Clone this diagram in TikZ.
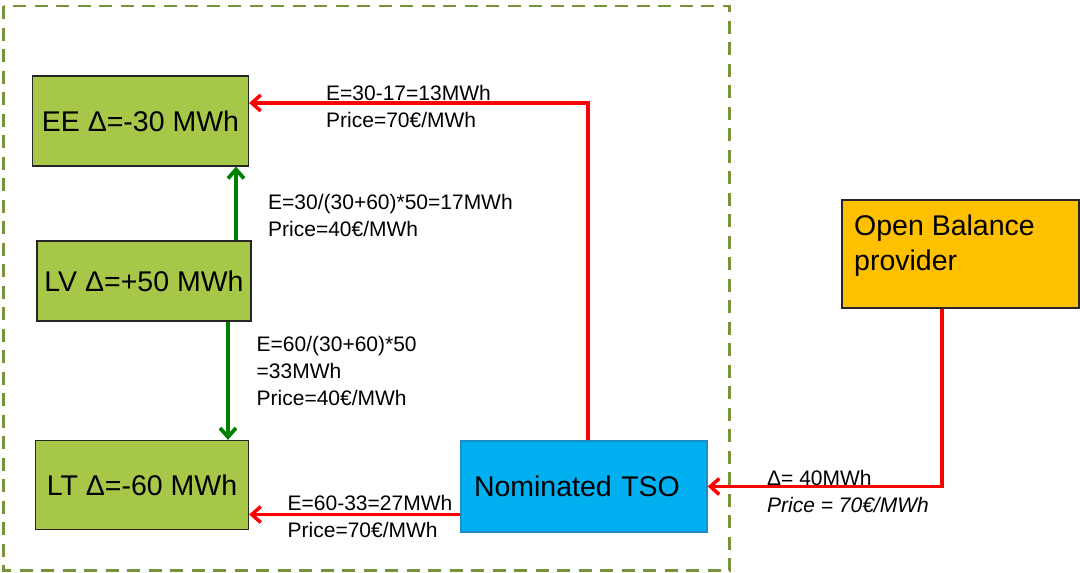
\documentclass[tikz,border=0pt]{standalone}
\usepackage{fontspec}
\setmainfont{Liberation Sans}
\usetikzlibrary{arrows.meta}
\definecolor{boxgreen}{RGB}{167,199,72}
\definecolor{tsoblue}{RGB}{0,176,240}
\definecolor{tsoedge}{RGB}{30,140,200}
\definecolor{obporange}{RGB}{255,192,0}
\definecolor{framegreen}{RGB}{119,147,60}
\definecolor{arrowgreen}{RGB}{0,128,0}
\definecolor{arrowred}{RGB}{255,0,0}
\begin{document}
\begin{tikzpicture}[x=1pt,y=-1pt,
  boxbase/.style={draw=black!85, line width=1.3pt, inner sep=0pt, font=\fontsize{28.5}{34}\selectfont},
  gbox/.style={boxbase, fill=boxgreen},
  frame/.style={draw=framegreen, line width=2.6pt, dash pattern=on 13pt off 8.5pt},
  redarrow/.style={draw=arrowred, line width=3.5pt, -{Straight Barb[length=9pt,width=16pt,line width=3.5pt]}},
  greenarrow/.style={draw=arrowgreen, line width=3.8pt, -{Straight Barb[length=9pt,width=16pt,line width=3.8pt]}},
  lbl/.style={anchor=north west, inner sep=0pt, align=left, font=\fontsize{21}{27}\selectfont},
]
\useasboundingbox (0,0) rectangle (1080,573);
\draw[frame] (3.5,6) rectangle (729.5,570.5);

\node[gbox, minimum width=216pt, minimum height=90pt] (EE) at (140.5,121) {EE Δ=-30 MWh};
\node[gbox, minimum width=214pt, minimum height=80pt] (LV) at (144,281) {LV Δ=+50 MWh};
\node[gbox, minimum width=213pt, minimum height=89pt] (LT) at (142,485) {LT Δ=-60 MWh};
\node[boxbase, draw=tsoedge, fill=tsoblue, minimum width=246pt, minimum height=91pt,
      text width=220pt, align=left] (TSO) at (584,486.5) {Nominated TSO};
\node[boxbase, fill=obporange, minimum width=237pt, minimum height=108pt] (OBP) at (960.5,254) {};
\node[anchor=north west, inner sep=0pt, align=left, font=\fontsize{28.5}{35}\selectfont] (OBPtext) at (854,215) {Open Balance\\provider};

\draw[redarrow] ([xshift=4pt]TSO.north) |- ([yshift=18pt]EE.east);
\draw[greenarrow] ([xshift=92pt]LV.north) -- ([xshift=92pt]LV.north |- EE.south);
\draw[greenarrow] ([xshift=84pt]LV.south) -- ([xshift=84pt]LV.south |- LT.north);
\draw[redarrow] ([yshift=-28pt]TSO.west) -- ([yshift=-28pt]TSO.west -| LT.east);
\draw[redarrow] ([xshift=-18.5pt]OBP.south) |- (TSO.east);

\node[lbl] (L1) at (326,85) {E=30-17=13MWh\\Price=70€/MWh};
\node[lbl] (L2) at (268,194) {E=30/(30+60)*50=17MWh\\Price=40€/MWh};
\node[lbl] (L3) at (256.5,336) {E=60/(30+60)*50\\=33MWh\\Price=40€/MWh};
\node[lbl] (L4) at (287.5,495) {E=60-33=27MWh\\Price=70€/MWh};
\node[lbl] (L5) at (767,470.5) {Δ= 40MWh\\\textit{Price = 70€/MWh}};
\end{tikzpicture}
\end{document}
